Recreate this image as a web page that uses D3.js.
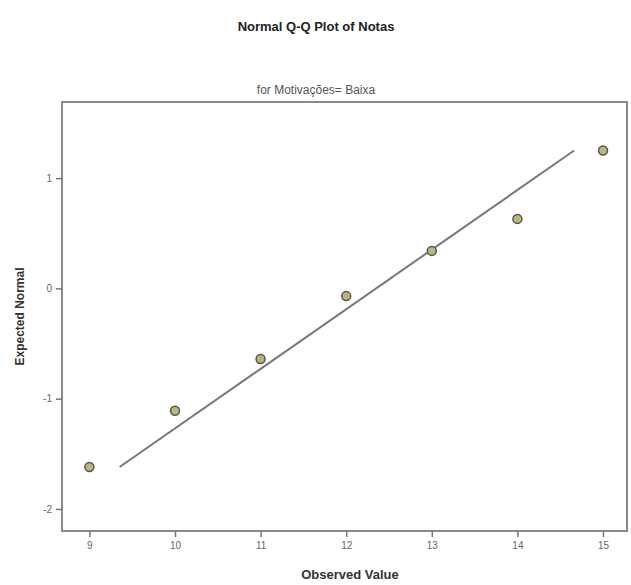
<!DOCTYPE html>
<html>
<head>
<meta charset="utf-8">
<script src="https://cdn.jsdelivr.net/npm/d3@7"></script>
<style>
 body { margin: 0; background: #fff; }
 text { font-family: "Liberation Sans", Arial, sans-serif; }
</style>
</head>
<body>
<div id="chart"></div>
<script>
// Data
var observed = [9, 10, 11, 12, 13, 14, 15];
var expected = [-1.62, -1.11, -0.64, -0.07, 0.34, 0.63, 1.25];
var xTicks = [9, 10, 11, 12, 13, 14, 15];
var yTicks = [-2, -1, 0, 1];
var lineMean = 12.35, lineSd = 1.85;   // reference normal line

var W = 631, H = 585;
var margin = { top: 102, right: 4, bottom: 54, left: 62 },
  width = W - margin.left - margin.right,
  height = H - margin.top - margin.bottom;

var svg = d3.select("#chart").append("svg")
  .attr("width", W).attr("height", H);

svg.append("text")
  .attr("x", 316).attr("y", 31)
  .attr("text-anchor", "middle")
  .style("font-size", "13px").style("font-weight", "bold")
  .style("fill", "#222")
  .text("Normal Q-Q Plot of Notas");

svg.append("text")
  .attr("x", 316).attr("y", 94)
  .attr("text-anchor", "middle")
  .style("font-size", "12px")
  .style("fill", "#555")
  .text("for Motivações= Baixa");

var g = svg.append("g")
  .attr("transform", "translate(" + margin.left + "," + margin.top + ")");

var x = d3.scaleLinear().domain([8.68, 15.28]).range([0, width]);
var y = d3.scaleLinear().domain([-2.2, 1.69]).range([height, 0]);

// frame
g.append("rect")
  .attr("width", width).attr("height", height)
  .attr("fill", "#fff").attr("stroke", "#8a8a8a").attr("stroke-width", 2);

// axes
var fmt = function(d) { return String(d); };
var xAxis = g.append("g")
  .attr("transform", "translate(0," + height + ")")
  .call(d3.axisBottom(x).tickValues(xTicks).tickFormat(fmt).tickSize(6).tickPadding(5));
var yAxis = g.append("g")
  .call(d3.axisLeft(y).tickValues(yTicks).tickFormat(fmt).tickSize(6).tickPadding(4));

[xAxis, yAxis].forEach(function(a) {
  a.select(".domain").remove();
  a.selectAll("line").attr("stroke", "#777").attr("stroke-width", 1.5);
  a.selectAll("text").style("font-size", "10px").style("fill", "#666")
    .style("font-family", "Liberation Sans, Arial, sans-serif");
});

// normal line
var lineY = [d3.min(expected), d3.max(expected)];
g.append("line")
  .attr("x1", x(lineMean + lineY[0] * lineSd)).attr("y1", y(lineY[0]))
  .attr("x2", x(lineMean + lineY[1] * lineSd)).attr("y2", y(lineY[1]))
  .attr("stroke", "#777").attr("stroke-width", 2);

// points
g.selectAll("circle")
  .data(observed)
  .enter().append("circle")
  .attr("cx", function(d) { return x(d); })
  .attr("cy", function(d, i) { return y(expected[i]); })
  .attr("r", 4.5)
  .attr("fill", "#bdb57c")
  .attr("stroke", "#555")
  .attr("stroke-width", 1.5);

// axis titles
svg.append("text")
  .attr("transform", "translate(24," + (margin.top + height / 2) + ") rotate(-90)")
  .attr("text-anchor", "middle")
  .style("font-size", "12px").style("font-weight", "bold").style("fill", "#333")
  .text("Expected Normal");

svg.append("text")
  .attr("x", 350).attr("y", 579)
  .attr("text-anchor", "middle")
  .style("font-size", "13px").style("font-weight", "bold").style("fill", "#333")
  .text("Observed Value");
</script>
</body>
</html>
